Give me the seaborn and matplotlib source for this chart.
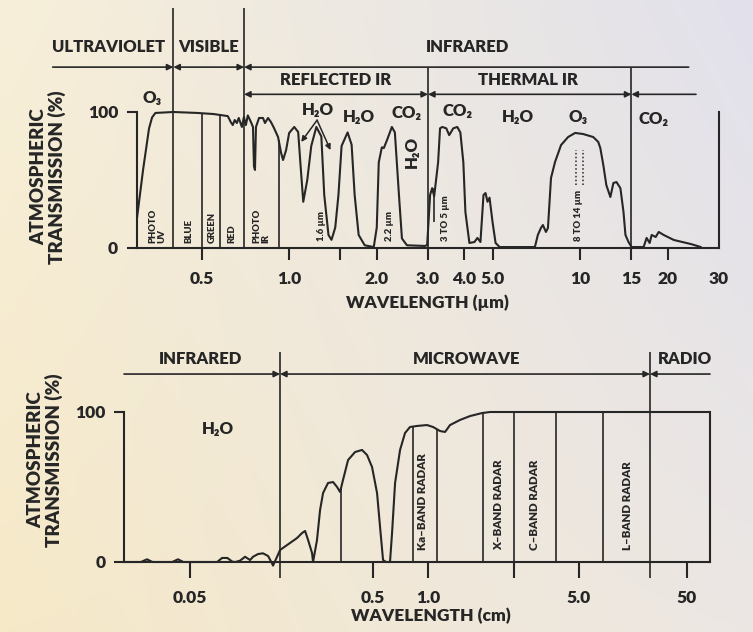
import numpy as np
import matplotlib
matplotlib.use("Agg")
import matplotlib.pyplot as plt
from matplotlib.ticker import NullLocator
import seaborn as sns

# ---------------------------------------------------------------------------
# Data: atmospheric transmission
# ---------------------------------------------------------------------------
# Optical / infrared window (wavelength in micrometres, transmission in %)
ir_wavelength_um = [
    0.300, 0.315, 0.330, 0.338, 0.347, 0.400, 0.484, 0.550, 0.615, 0.620,
    0.630, 0.640, 0.650, 0.661, 0.671, 0.688, 0.699, 0.710, 0.721, 0.739,
    0.751, 0.757, 0.763, 0.769, 0.788, 0.813, 0.826, 0.846, 0.866, 0.887,
    0.916, 0.938, 0.953, 0.976, 1.000, 1.041, 1.074, 1.095, 1.118, 1.154,
    1.191, 1.240, 1.290, 1.320, 1.365, 1.398, 1.440, 1.477, 1.514, 1.588,
    1.639, 1.679, 1.733, 1.818, 1.953, 2.000, 2.032, 2.082, 2.115, 2.166,
    2.254, 2.308, 2.384, 2.441, 2.540, 2.930, 2.980, 3.050, 3.100, 3.150,
    3.250, 3.300, 3.357, 3.467, 3.548, 3.664, 3.782, 3.875, 3.968, 4.033,
    4.163, 4.332, 4.436, 4.543, 4.654, 4.729, 4.805, 4.882, 5.000, 5.121,
    5.288, 6.990, 7.155, 7.330, 7.447, 7.627, 7.750, 7.940, 8.196, 8.597,
    9.090, 9.610, 10.24, 11.09, 11.54, 11.73, 12.01, 12.30, 12.70, 13.01,
    13.33, 13.75, 14.09, 14.31, 14.66, 15.02, 16.52, 16.92, 17.33, 17.61,
    18.18, 18.62, 19.36, 20.98, 24.03, 26.00,
]
ir_transmission = [
    22.0, 58.0, 88.0, 96.0, 99.3, 100.0, 99.3, 98.5, 97.0, 95.6,
    92.6, 90.4, 94.1, 91.9, 95.6, 89.0, 96.3, 90.4, 97.5, 92.6,
    89.0, 60.0, 57.4, 89.0, 95.6, 95.6, 91.9, 95.6, 92.6, 88.2,
    81.6, 70.0, 64.7, 72.0, 84.6, 89.0, 85.3, 60.0, 34.0, 50.0,
    75.0, 89.0, 82.0, 39.0, 9.6, 6.0, 15.0, 39.0, 75.0, 85.0,
    76.0, 39.0, 9.6, 2.0, 0.7, 15.0, 63.0, 74.0, 73.5, 79.0,
    89.0, 85.0, 39.0, 7.0, 2.0, 1.5, 2.2, 39.0, 44.0, 38.0,
    63.0, 88.0, 89.0, 88.0, 83.0, 88.0, 89.0, 85.0, 63.0, 26.5,
    3.7, 4.4, 7.4, 4.4, 39.0, 40.4, 34.0, 37.0, 19.0, 3.7,
    0.7, 0.7, 9.6, 14.7, 16.9, 11.8, 14.7, 51.5, 63.2, 75.7,
    81.6, 84.6, 83.8, 81.6, 78.0, 73.5, 61.0, 46.3, 37.5, 47.8,
    48.5, 44.0, 26.5, 9.6, 4.4, 0.7, 0.7, 7.4, 3.7, 9.6,
    8.1, 11.8, 9.6, 5.9, 2.9, 0.7,
]

# Microwave window (wavelength in centimetres, transmission in %)
mw_wavelength_cm = [
    0.0218, 0.0270, 0.0291, 0.0312, 0.0400, 0.0430, 0.0460, 0.0704, 0.0749, 0.0800,
    0.0853, 0.0886, 0.0939, 0.1000, 0.1065, 0.1106, 0.1177, 0.1253, 0.1336, 0.1404,
    0.1422, 0.1496, 0.1553, 0.1697, 0.1924, 0.2048, 0.2128, 0.2210, 0.2323, 0.2353,
    0.2473, 0.2570, 0.2669, 0.2841, 0.3027, 0.3183, 0.3305, 0.3430, 0.3656, 0.3990,
    0.4358, 0.4642, 0.4943, 0.5264, 0.5467, 0.5677, 0.5896, 0.6196, 0.6357, 0.6604,
    0.7031, 0.7485, 0.7970, 0.8707, 0.9870, 1.055, 1.137, 1.199, 1.264, 1.406,
    1.565, 1.778, 1.936, 81.6,
]
mw_transmission = [
    0.0, 0.0, 1.8, 0.0, 0.0, 1.8, 0.0, 0.0, 2.7, 2.7,
    0.2, 0.0, 0.9, 3.5, 1.3, 3.5, 5.3, 5.8, 4.0, -0.9,
    -2.4, 3.5, 8.0, 11.3, 16.0, 19.3, 20.7, 14.7, 6.0, 0.0,
    14.7, 34.7, 46.0, 52.7, 53.3, 50.0, 46.7, 54.7, 68.0, 73.3,
    74.7, 71.3, 63.3, 46.0, 23.3, 1.3, 0.0, 0.0, 19.3, 52.7,
    74.7, 86.0, 90.0, 90.7, 91.3, 90.0, 87.3, 86.7, 91.3, 94.7,
    97.3, 99.3, 100.0, 100.0,
]

# Tick values / labels
ir_ticks = [0.5, 1.0, 1.5, 2.0, 3.0, 4.0, 5.0, 10, 15, 20]
ir_tick_labels = ["0.5", "1.0", "", "2.0", "3.0", "4.0", "5.0", "10", "15", "20"]
mw_ticks = [0.05, 0.5, 1.0, 2.5, 5.0, 50]
mw_tick_labels = ["0.05", "0.5", "1.0", "", "5.0", "50"]

# Photographic / visible bands (µm) and radar bands (cm)
vis_band_edges = [0.5, 0.58, 0.92]
vis_band_names = ["PHOTO\nUV", "BLUE", "GREEN", "RED", "PHOTO\nIR"]
vis_band_centers = [0.352, 0.451, 0.546, 0.635, 0.80]
radar_edges_to_curve = [0.335, 0.828, 1.10]
radar_edges_full = [1.80, 3.9, 8.3]
radar_tick_edge = 2.5
radar_names = ["Ka\u2013BAND RADAR", "X\u2013BAND RADAR", "C\u2013BAND RADAR", "L\u2013BAND RADAR"]
radar_centers = [0.93, 2.13, 3.12, 14.0]

# ---------------------------------------------------------------------------
# Styling
# ---------------------------------------------------------------------------
sns.set_theme(style="white")
plt.rcParams["font.family"] = ["Lato", "DejaVu Sans"]
plt.rcParams["font.weight"] = "heavy"
WEIGHT = "heavy"
INK = "#262626"
LW = 1.5

fig = plt.figure(figsize=(7.53, 6.32), dpi=100)
W, H = 753.0, 632.0

# soft cream-to-lavender backdrop
bg = fig.add_axes([0, 0, 1, 1], zorder=-10)
tl = np.array([247, 239, 217]) / 255
tr = np.array([226, 225, 236]) / 255
bl = np.array([246, 233, 200]) / 255
br = np.array([236, 231, 228]) / 255
yy, xx = np.mgrid[0:1:120j, 0:1:160j]
grad = ((1 - xx)[..., None] * ((1 - yy)[..., None] * tl + yy[..., None] * bl)
        + xx[..., None] * ((1 - yy)[..., None] * tr + yy[..., None] * br))
bg.imshow(grad, aspect="auto", extent=[0, 1, 0, 1], interpolation="bicubic")
bg.set_axis_off()


def px_axes(left, top, right, bottom):
    return fig.add_axes([left / W, 1 - bottom / H, (right - left) / W, (bottom - top) / H])


def span_arrow(ax, x0, x1, y, style):
    ax.annotate("", xy=(x1, y), xytext=(x0, y), xycoords="data",
                arrowprops=dict(arrowstyle=style, color=INK, lw=1.2, shrinkA=0, shrinkB=0,
                                mutation_scale=9),
                annotation_clip=False)


def style_axes(ax, xtick_len):
    ax.set_facecolor("none")
    ax.spines["top"].set_visible(False)
    for s in ("left", "right", "bottom"):
        ax.spines[s].set_color(INK)
        ax.spines[s].set_linewidth(LW)
    ax.set_ylim(0, 100)
    ax.set_yticks([0, 100], ["0", "100"])
    ax.tick_params(axis="y", length=7.5, width=LW, direction="out", pad=6,
                   labelsize=12.5, colors=INK, left=True)
    ax.tick_params(axis="x", length=xtick_len, width=LW, direction="out", pad=8,
                   labelsize=12.5, colors=INK, bottom=True)
    ax.xaxis.set_minor_locator(NullLocator())
    ax.grid(False)
    ax.set_xlabel("")
    ax.set_ylabel("")
    for lab in ax.get_xticklabels() + ax.get_yticklabels():
        lab.set_fontweight(WEIGHT)


# ---------------------------------------------------------------------------
# Upper panel: UV / visible / infrared
# ---------------------------------------------------------------------------
ax1 = px_axes(137, 112, 719, 248)
ax1.set_xscale("log")
sns.lineplot(x=ir_wavelength_um, y=ir_transmission, ax=ax1, color=INK, lw=LW,
             sort=False, estimator=None)
ax1.set_xlim(0.3, 30)
ax1.set_xticks(ir_ticks, ir_tick_labels)
style_axes(ax1, 8.5)
for ln in ax1.lines:
    ln.set_clip_on(False)
ax1.text(30, -17, "30", ha="center", va="top", fontsize=12.5, color=INK, fontweight=WEIGHT)

log_ir = np.log10(ir_wavelength_um)
vis_tops = np.interp(np.log10(vis_band_edges), log_ir, ir_transmission)
ax1.vlines(vis_band_edges, 0, vis_tops, color=INK, lw=1.2)
ax1.vlines([0.4, 0.7], 0, 176.5, color=INK, lw=1.2, clip_on=False)
ax1.vlines([3.0, 15.0], 0, 133, color=INK, lw=1.2, clip_on=False)
ax1.vlines([3.15], 19, 44, color=INK, lw=1.2)
for name, xc in zip(vis_band_names, vis_band_centers):
    ax1.text(xc, 3.5, name, rotation=90, rotation_mode="anchor", ha="left", va="center",
             fontsize=6.8, color=INK, linespacing=1.0, fontweight=WEIGHT)

for txt, xc in [("1.6 \u00b5m", 1.29), ("2.2 \u00b5m", 2.22), ("3 TO 5 \u00b5m", 3.44),
                ("8 TO 14 \u00b5m", 9.9)]:
    ax1.text(xc, 5.5, txt, rotation=90, rotation_mode="anchor", ha="left", va="center",
             fontsize=6.8, color=INK, fontweight=WEIGHT)
ax1.vlines([9.65, 10.25], 46, 72, color=INK, lw=1.1, linestyles=(0, (1, 1.5)))

# absorbing gases
gas_kw = dict(ha="center", va="center", fontsize=12, color=INK, fontweight=WEIGHT)
ax1.text(0.338, 110, "O\u2083", **gas_kw)
ax1.text(1.26, 101.5, "H\u2082O", **gas_kw)
ax1.text(1.733, 96, "H\u2082O", **gas_kw)
ax1.text(2.54, 99, "CO\u2082", **gas_kw)
ax1.text(2.64, 70.5, "H\u2082O", rotation=90, **gas_kw)
ax1.text(3.78, 100.5, "CO\u2082", **gas_kw)
ax1.text(6.1, 96, "H\u2082O", **gas_kw)
ax1.text(9.83, 96, "O\u2083", **gas_kw)
ax1.text(17.9, 95, "CO\u2082", **gas_kw)
for tip in [(1.10, 78), (1.387, 72)]:
    ax1.annotate("", xy=tip, xytext=(1.247, 94),
                 arrowprops=dict(arrowstyle="-|>", color=INK, lw=1.1, shrinkA=0, shrinkB=0,
                                 mutation_scale=8),
                 annotation_clip=False)

# spectral region headers
hdr_kw = dict(ha="center", va="center", fontsize=12, color=INK, fontweight=WEIGHT)
ax1.text(0.240, 147.5, "ULTRAVIOLET", **hdr_kw)
ax1.text(0.529, 147.5, "VISIBLE", **hdr_kw)
ax1.text(4.1, 147.5, "INFRARED", **hdr_kw)
ax1.text(1.44, 123.5, "REFLECTED IR", **hdr_kw)
ax1.text(6.6, 123.5, "THERMAL IR", **hdr_kw)
span_arrow(ax1, 0.154, 0.4, 133, "-|>")
span_arrow(ax1, 0.4, 0.7, 133, "<|-|>")
span_arrow(ax1, 0.7, 23.6, 133, "<|-")
span_arrow(ax1, 0.7, 3.0, 113, "<|-|>")
span_arrow(ax1, 3.0, 15.0, 113, "<|-|>")
span_arrow(ax1, 15.0, 25.0, 113, "<|-")

fig.text(427 / W, 1 - 303 / H, "WAVELENGTH (\u00b5m)", ha="center", va="center",
         fontsize=12.5, color=INK, fontweight=WEIGHT)
fig.text(48 / W, 1 - 177 / H, "ATMOSPHERIC\nTRANSMISSION (%)", rotation=90, ha="center",
         va="center", fontsize=13.5, color=INK, linespacing=1.0, multialignment="center",
         fontweight=WEIGHT)

# ---------------------------------------------------------------------------
# Lower panel: infrared / microwave / radio
# ---------------------------------------------------------------------------
MW_LOG_ANCHORS = [-2.0, 0.0, np.log10(5.0), 2.0]
MW_POS_ANCHORS = [-366.0, 0.0, 151.0, 291.5]


def mw_forward(x):
    x = np.asarray(x, dtype=float)
    return np.interp(np.log10(np.clip(x, 1e-9, None)), MW_LOG_ANCHORS, MW_POS_ANCHORS)


def mw_inverse(u):
    return 10.0 ** np.interp(np.asarray(u, dtype=float), MW_POS_ANCHORS, MW_LOG_ANCHORS)


ax2 = px_axes(124, 412, 710, 562)
ax2.set_xscale("function", functions=(mw_forward, mw_inverse))
sns.lineplot(x=mw_wavelength_cm, y=mw_transmission, ax=ax2, color=INK, lw=LW,
             sort=False, estimator=None)
ax2.set_xlim(0.0218, 81.6)
ax2.set_xticks(mw_ticks, mw_tick_labels)
style_axes(ax2, 11.5)
ax2.tick_params(axis="x", pad=9)
for ln in ax2.lines:
    ln.set_clip_on(False)

log_mw = np.log10(mw_wavelength_cm)
radar_tops = np.interp(np.log10(radar_edges_to_curve), log_mw, mw_transmission)
ax2.vlines(radar_edges_to_curve, 0, radar_tops, color=INK, lw=1.2)
ax2.vlines(radar_edges_full, 0, 100, color=INK, lw=1.2)
ax2.vlines([radar_tick_edge], 0, 100, color=INK, lw=1.2)
ax2.vlines([0.1553, 22.7], -10.7, 140, color=INK, lw=1.2, clip_on=False)
for name, xc in zip(radar_names, radar_centers):
    ax2.text(xc, 8, name, rotation=90, rotation_mode="anchor", ha="left", va="center",
             fontsize=8.3, color=INK, fontweight=WEIGHT)

ax2.text(0.0712, 88.7, "H\u2082O", **gas_kw)
ax2.text(0.0568, 135.3, "INFRARED", **hdr_kw)
ax2.text(1.515, 135.3, "MICROWAVE", **hdr_kw)
ax2.text(47.7, 135.3, "RADIO", **hdr_kw)
span_arrow(ax2, 0.0218, 0.1553, 125.3, "-|>")
span_arrow(ax2, 0.1553, 22.7, 125.3, "<|-|>")
span_arrow(ax2, 22.7, 81.6, 125.3, "<|-")

fig.text(431 / W, 1 - 616 / H, "WAVELENGTH (cm)", ha="center", va="center",
         fontsize=12.5, color=INK, fontweight=WEIGHT)
fig.text(45 / W, 1 - 460 / H, "ATMOSPHERIC\nTRANSMISSION (%)", rotation=90, ha="center",
         va="center", fontsize=13.5, color=INK, linespacing=1.0, multialignment="center",
         fontweight=WEIGHT)

fig.savefig("out.png", dpi=100)
